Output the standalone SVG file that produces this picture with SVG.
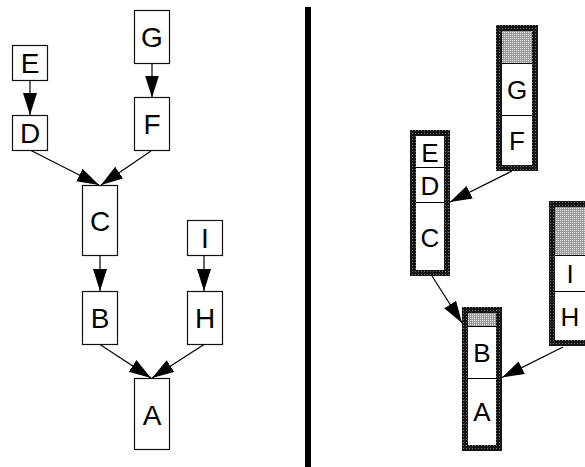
<svg xmlns="http://www.w3.org/2000/svg" width="585" height="467" viewBox="0 0 585 467">
<style>
.box{fill:#fff;stroke:#111;stroke-width:1.2}
.lbl{font-family:"Liberation Sans",Arial,sans-serif;font-size:28px;fill:#000;text-anchor:middle}
.rl{font-family:"Liberation Sans",Arial,sans-serif;font-size:26px;fill:#000;text-anchor:middle}
.edge{fill:none;stroke:#000;stroke-width:1.2}
.frame{fill:url(#fr)}
.inner{fill:#fff}
.shade{fill:url(#sh)}
.sep{stroke:#000;stroke-width:1}
</style>
<defs>
<pattern id="fr" width="3" height="3" patternUnits="userSpaceOnUse">
<rect width="3" height="3" fill="#151515"/>
<rect x="1" y="1" width="1" height="1" fill="#777"/>
</pattern>
<pattern id="sh" width="2" height="2" patternUnits="userSpaceOnUse">
<rect width="2" height="2" fill="#9a9a9a"/>
<rect x="0" y="0" width="1" height="1" fill="#e8e8e8"/>
</pattern>
<marker id="ah" markerUnits="userSpaceOnUse" markerWidth="23" markerHeight="15" refX="22" refY="7" orient="auto">
<path d="M0,0 L22,7 L0,14 z" fill="#000"/>
</marker>
</defs>
<rect x="305" y="7" width="6" height="460" fill="#000"/>
<g id="left-E"><rect class="box" x="12.5" y="45.5" width="35" height="35"/><text class="lbl" x="30" y="73">E</text></g>
<g id="left-D"><rect class="box" x="12.5" y="115.5" width="35" height="35"/><text class="lbl" x="30" y="143">D</text></g>
<g id="left-G"><rect class="box" x="134.5" y="10.5" width="35" height="53"/><text class="lbl" x="152" y="47">G</text></g>
<g id="left-F"><rect class="box" x="134.5" y="97.5" width="35" height="53"/><text class="lbl" x="152" y="134">F</text></g>
<g id="left-C"><rect class="box" x="82.5" y="185.5" width="35" height="70"/><text class="lbl" x="100" y="231">C</text></g>
<g id="left-I"><rect class="box" x="187.5" y="220.5" width="35" height="35"/><text class="lbl" x="205" y="248">I</text></g>
<g id="left-B"><rect class="box" x="82.5" y="291.5" width="35" height="53"/><text class="lbl" x="100" y="328">B</text></g>
<g id="left-H"><rect class="box" x="187.5" y="291.5" width="35" height="53"/><text class="lbl" x="205" y="328">H</text></g>
<g id="left-A"><rect class="box" x="134.5" y="378.5" width="35" height="71"/><text class="lbl" x="152" y="424.5">A</text></g>
<g id="right-GF">
<rect class="frame" x="496" y="25" width="42" height="146"/>
<rect class="inner" x="502" y="31" width="30" height="134"/>
<rect class="shade" x="502" y="31" width="30" height="32"/>
<line class="sep" x1="502" y1="63.5" x2="532" y2="63.5"/>
<line class="sep" x1="502" y1="115.5" x2="532" y2="115.5"/>
<text class="rl" x="517" y="99">G</text>
<text class="rl" x="517" y="150">F</text>
</g>
<g id="right-EDC">
<rect class="frame" x="410" y="130" width="40" height="146"/>
<rect class="inner" x="416" y="136" width="28" height="134"/>
<line class="sep" x1="416" y1="167.5" x2="444" y2="167.5"/>
<line class="sep" x1="416" y1="202.5" x2="444" y2="202.5"/>
<text class="rl" x="430" y="161.5">E</text>
<text class="rl" x="430" y="194.5">D</text>
<text class="rl" x="430" y="247">C</text>
</g>
<g id="right-IH">
<rect class="frame" x="549" y="201" width="42" height="145"/>
<rect class="inner" x="555" y="207" width="30" height="133"/>
<rect class="shade" x="555" y="207" width="30" height="48"/>
<line class="sep" x1="555" y1="255.5" x2="585" y2="255.5"/>
<line class="sep" x1="555" y1="291.5" x2="585" y2="291.5"/>
<text class="rl" x="570" y="282.5">I</text>
<text class="rl" x="570" y="325.5">H</text>
</g>
<g id="right-BA">
<rect class="frame" x="462" y="307" width="40" height="144"/>
<rect class="inner" x="468" y="313" width="28" height="132"/>
<rect class="shade" x="468" y="313" width="28" height="13"/>
<line class="sep" x1="468" y1="326.5" x2="496" y2="326.5"/>
<line class="sep" x1="468" y1="378.5" x2="496" y2="378.5"/>
<text class="rl" x="482" y="361.5">B</text>
<text class="rl" x="482" y="421">A</text>
</g>
<g id="connectors">
<line class="edge" x1="30" y1="80" x2="30" y2="115" marker-end="url(#ah)"/>
<line class="edge" x1="152" y1="63" x2="152" y2="97.5" marker-end="url(#ah)"/>
<line class="edge" x1="31" y1="150.5" x2="99" y2="185" marker-end="url(#ah)"/>
<line class="edge" x1="151" y1="151" x2="101" y2="185" marker-end="url(#ah)"/>
<line class="edge" x1="100" y1="256" x2="100" y2="291" marker-end="url(#ah)"/>
<line class="edge" x1="204" y1="256" x2="204" y2="291" marker-end="url(#ah)"/>
<line class="edge" x1="100" y1="344.5" x2="151" y2="378" marker-end="url(#ah)"/>
<line class="edge" x1="204" y1="344.5" x2="152" y2="378" marker-end="url(#ah)"/>
<line class="edge" x1="512" y1="171" x2="450" y2="202" marker-end="url(#ah)"/>
<line class="edge" x1="432" y1="276" x2="462" y2="323" marker-end="url(#ah)"/>
<line class="edge" x1="563" y1="347" x2="502" y2="377.5" marker-end="url(#ah)"/>
</g>
</svg>
